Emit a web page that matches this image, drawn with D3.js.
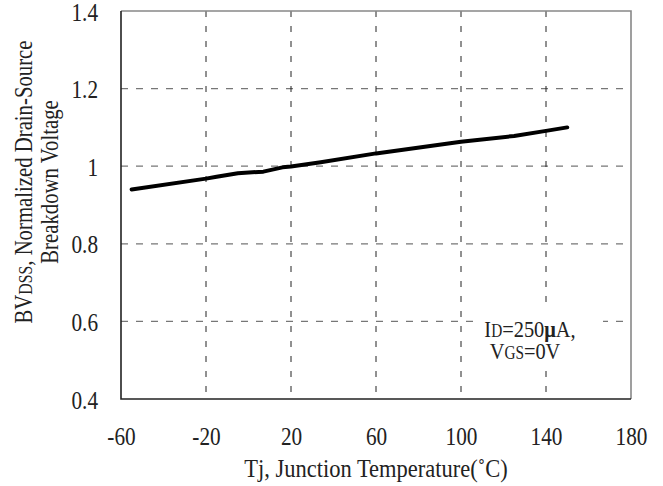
<!DOCTYPE html>
<html>
<head>
<meta charset="utf-8">
<script src="https://cdn.jsdelivr.net/npm/d3@7"></script>
<style>
	body { margin: 0; background: #fff; }
	svg { display: block; }
	text { font-family: "Liberation Serif", "DejaVu Serif", serif; fill: #222; }
</style>
</head>
<body>
<script>
// curve
var temps = [-55, -20, -15, -5, 7, 16, 20, 34, 60, 100, 125, 140, 150];
var bvdss = [0.940, 0.968, 0.973, 0.982, 0.986, 0.997, 0.999, 1.010, 1.033, 1.063, 1.078, 1.091, 1.100];
var xTicks = [-60, -20, 20, 60, 100, 140, 180];
var yTicks = [0.4, 0.6, 0.8, 1.0, 1.2, 1.4];

var W = 663, H = 486;
var pl = 121, pr = 631, pt = 11, pb = 399;
var sx = 0.85; // narrow glyphs like the original font

var svg = d3.select("body").append("svg")
	.attr("width", W)
	.attr("height", H);

var x = d3.scaleLinear().domain([-60, 180]).range([pl, pr]);
var y = d3.scaleLinear().domain([0.4, 1.4]).range([pb, pt]);

// grid
svg.append("g")
	.selectAll("line")
	.data(yTicks.slice(1, -1))
	.enter().append("line")
		.attr("x1", pl).attr("x2", pr)
		.attr("y1", function(d) { return y(d); })
		.attr("y2", function(d) { return y(d); })
		.attr("stroke", "#777")
		.attr("stroke-width", 1.3)
		.attr("stroke-dasharray", "7,8");

svg.append("g")
	.selectAll("line")
	.data(xTicks.slice(1, -1))
	.enter().append("line")
		.attr("x1", function(d) { return x(d); })
		.attr("x2", function(d) { return x(d); })
		.attr("y1", pt).attr("y2", pb)
		.attr("stroke", "#222")
		.attr("stroke-width", 1)
		.attr("stroke-dasharray", "6,9");

// white patch behind the note
svg.append("rect")
	.attr("x", 479).attr("y", 302)
	.attr("width", 124).attr("height", 64)
	.attr("fill", "#fff");

// frame
svg.append("path")
	.attr("d", "M" + pl + "," + pt + "H" + pr + "V" + pb)
	.attr("fill", "none")
	.attr("stroke", "#888")
	.attr("stroke-width", 1.6);
svg.append("path")
	.attr("d", "M" + pl + "," + pt + "V" + pb + "H" + pr)
	.attr("fill", "none")
	.attr("stroke", "#222")
	.attr("stroke-width", 1.6);

// axes (labels only)
var yAxis = svg.append("g")
	.attr("transform", "translate(" + pl + ",0)")
	.call(d3.axisLeft(y).tickValues(yTicks).tickSize(0)
		.tickFormat(function(d) { return String(+d.toFixed(1)); }));
var xAxis = svg.append("g")
	.attr("transform", "translate(0," + pb + ")")
	.call(d3.axisBottom(x).tickValues(xTicks).tickSize(0)
		.tickFormat(function(d) { return String(d); }));

[yAxis, xAxis].forEach(function(a) {
	a.select(".domain").remove();
	a.selectAll("text")
		.style("font-family", "'Liberation Serif', serif")
		.style("font-size", "25px")
		.attr("fill", "#222");
});
yAxis.selectAll("text")
	.attr("x", 0).attr("dy", null)
	.attr("text-anchor", "end")
	.attr("transform", "translate(-23,9) scale(" + sx + ",1)");
xAxis.selectAll("text")
	.attr("y", 0).attr("dy", null)
	.attr("transform", "translate(0,46) scale(" + sx + ",1)");

// curve
var pts = temps.map(function(t, i) { return [t, bvdss[i]]; });
svg.append("path")
	.datum(pts)
	.attr("fill", "none")
	.attr("stroke", "#000")
	.attr("stroke-width", 4)
	.attr("stroke-linejoin", "round")
	.attr("stroke-linecap", "round")
	.attr("d", d3.line()
		.x(function(d) { return x(d[0]); })
		.y(function(d) { return y(d[1]); }));

// titles
svg.append("text")
	.attr("transform", "translate(376,477) scale(0.9,1)")
	.attr("text-anchor", "middle")
	.style("font-size", "25px")
	.text("Tj, Junction Temperature(\u02DAC)");

var t1 = svg.append("text")
	.attr("transform", "translate(32,182) rotate(-90) scale(0.83,1)")
	.attr("text-anchor", "middle")
	.style("font-size", "25px");
t1.append("tspan").text("BV");
t1.append("tspan").style("font-size", "19px").text("DSS");
t1.append("tspan").text(", Normalized Drain-Source");

svg.append("text")
	.attr("transform", "translate(58,182) rotate(-90) scale(0.83,1)")
	.attr("text-anchor", "middle")
	.style("font-size", "25px")
	.text("Breakdown Voltage");

// note
var n1 = svg.append("text")
	.attr("transform", "translate(530,337) scale(" + sx + ",1)")
	.attr("text-anchor", "middle")
	.style("font-size", "24px");
n1.append("tspan").text("I");
n1.append("tspan").style("font-size", "18px").text("D");
n1.append("tspan").text("=250");
n1.append("tspan").attr("font-weight", "bold").text("\u03BC");
n1.append("tspan").text("A,");

var n2 = svg.append("text")
	.attr("transform", "translate(525,359) scale(" + sx + ",1)")
	.attr("text-anchor", "middle")
	.style("font-size", "24px");
n2.append("tspan").text("V");
n2.append("tspan").style("font-size", "18px").text("GS");
n2.append("tspan").text("=0V");
</script>
</body>
</html>
